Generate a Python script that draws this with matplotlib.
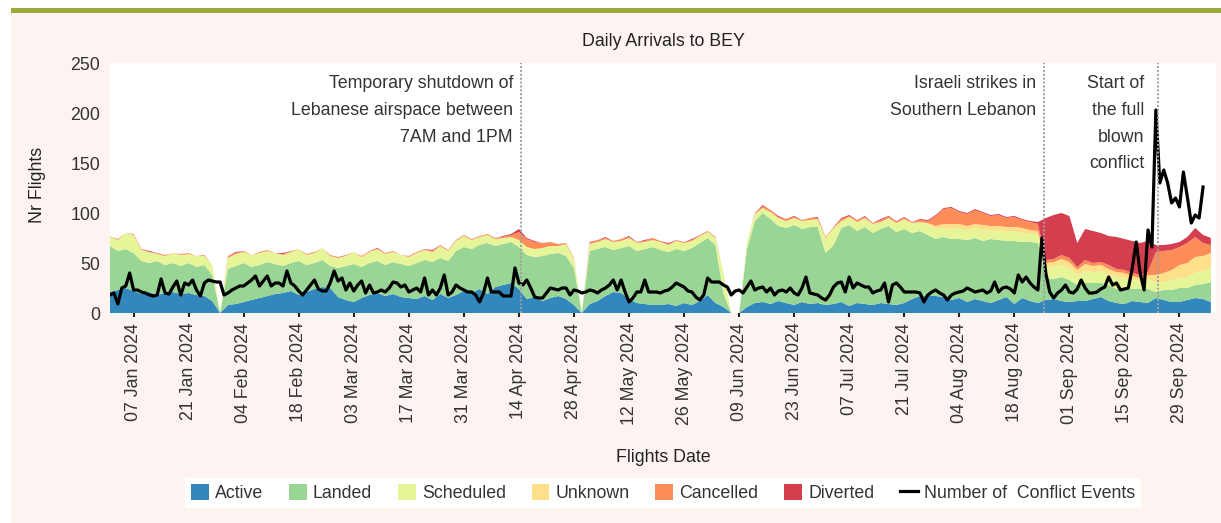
import numpy as np
import pandas as pd
import matplotlib
matplotlib.use('Agg')
import matplotlib.pyplot as plt
import matplotlib.dates as mdates
from matplotlib import font_manager
from matplotlib.patches import Patch, Rectangle
from matplotlib.lines import Line2D

# flights per status, one value every 2 days starting 01 Jan 2024
active = [21, 23, 25, 22, 19, 21, 18, 20, 21, 19, 20, 18, 17, 12, 0,
          8, 9, 11, 13, 15, 17, 19, 20, 22, 18, 21, 24, 26, 25, 16,
          13, 11, 15, 18, 20, 17, 19, 16, 15, 14, 17, 13, 19, 15,
          18, 22, 20, 24, 19, 26, 28, 30,
          24,
          14, 16, 12, 15, 17, 14, 8,
          0,
          9, 12, 17, 21, 20, 14, 10, 9, 8, 8, 9, 7, 10, 8, 12, 18, 10, 6,
          0, 0,
          6, 10, 11, 9, 12, 10, 8, 11, 9,
          10, 8, 9, 11, 7, 10, 9, 8, 10, 9, 8, 10, 14, 17, 18,
          17, 16, 13, 15, 11, 14, 12, 10, 13, 16, 9, 15, 12,
          10,
          13, 14, 12, 11, 12, 12, 14, 16, 12, 10, 9, 12, 11, 10,
          15, 13, 11, 11, 13, 15, 14, 11]
landed = [46, 39, 39, 38, 33, 29, 34, 28, 29, 28, 30, 28, 31, 26, 0,
          36, 38, 39, 33, 33, 34, 30, 27, 28, 34, 27, 26, 27, 22, 29,
          34, 38, 31, 32, 32, 31, 32, 33, 32, 36, 36, 38, 36, 37,
          44, 44, 44, 44, 51, 41, 41, 41,
          42,
          44, 40, 45, 44, 43, 43, 37,
          0,
          53, 52, 49, 42, 45, 53, 52, 55, 58, 55, 52, 57, 52, 57, 58, 57, 58, 14,
          0, 0,
          58, 82, 89, 85, 75, 75, 80, 73, 77,
          76, 52, 59, 74, 81, 72, 77, 72, 74, 78, 73, 74, 66, 65, 60,
          57, 60, 61, 59, 62, 61, 60, 64, 60, 56, 63, 56, 59,
          60,
          22, 20, 24, 22, 16, 18, 16, 14, 16, 14, 15, 12, 13, 14,
          6, 10, 12, 14, 12, 13, 15, 20]
scheduled = [10, 11, 16, 18, 11, 11, 7, 9, 10, 11, 9, 11, 9, 10, 0,
             11, 12, 11, 12, 12, 11, 11, 11, 11, 12, 10, 10, 12, 10, 10,
             10, 12, 10, 11, 12, 11, 10, 9, 9, 10, 10, 10, 12, 10,
             10, 11, 9, 8, 8, 7, 6, 5,
             7,
             8, 8, 8, 8, 7, 12, 9,
             0,
             7, 7, 8, 8, 7, 8, 8, 7, 7, 8, 7, 8, 8, 7, 7, 6, 7, 20,
             0, 0,
             6, 7, 5, 7, 7, 7, 7, 8, 7,
             8, 15, 17, 7, 8, 9, 8, 9, 7, 8, 9, 9, 10, 9, 11,
             10, 9, 10, 11, 9, 10, 11, 9, 10, 9, 10, 9, 8,
             9,
             10, 12, 12, 12, 10, 12, 11, 12, 10, 12, 11, 9, 8, 10,
             9, 8, 10, 10, 11, 12, 13, 14]
unknown = [0, 0, 0, 0, 0, 0, 0, 0, 0, 0, 0, 0, 0, 0, 0,
           0, 0, 0, 0, 0, 0, 0, 0, 0, 0, 0, 0, 0, 0, 0,
           0, 0, 0, 0, 0, 0, 0, 0, 0, 0, 0, 0, 0, 0, 0,
           0, 0, 0, 0, 0, 0, 0, 0, 0, 0, 0, 0, 0, 0, 0,
           0, 0, 0, 0, 0, 0, 0, 0, 0, 0, 0, 0, 0, 0, 0,
           0, 0, 0, 0, 0, 0, 0, 0, 0, 0, 1, 0, 0, 0, 0,
           0, 0, 0, 0, 0, 0, 1, 0, 0, 0, 0, 1, 0, 0, 1,
           3, 4, 5, 4, 5, 4, 5, 4, 4, 5, 4, 5, 4,
           3,
           5, 5, 6, 6, 5, 7, 6, 6, 6, 5, 5, 4, 3, 4,
           8, 9, 10, 13, 14, 16, 15, 15]
cancelled = [0, 1, 0, 1, 1, 0, 1, 1, 0, 1, 1, 0, 1, 0, 0,
             2, 1, 1, 0, 1, 1, 0, 1, 1, 0, 1, 1, 0, 1, 1,
             1, 0, 1, 1, 0, 1, 1, 0, 1, 1, 1, 1, 1, 1,
             1, 1, 1, 1, 1, 1, 1, 2,
             8,
             8, 7, 5, 4, 2, 1, 1,
             0,
             1, 2, 1, 1, 2, 1, 1, 1, 2, 1, 1, 1, 1, 1, 1, 1, 1, 0,
             0, 0,
             0, 1, 2, 2, 1, 2, 1, 1, 2,
             1, 1, 1, 2, 1, 2, 1, 1, 2, 1, 2, 1, 1, 2, 2,
             10, 15, 16, 12, 12, 14, 12, 10, 11, 9, 10, 8, 8,
             7,
             3, 3, 4, 4, 3, 4, 3, 3, 4, 3, 3, 3, 3, 3,
             23, 22, 20, 18, 20, 20, 13, 8]
diverted = [0, 0, 0, 0, 0, 1, 0, 0, 0, 0, 0, 0, 0, 0, 0,
            0, 1, 0, 0, 0, 0, 0, 1, 0, 0, 0, 0, 0, 0, 0,
            0, 0, 0, 0, 1, 0, 0, 0, 0, 0, 0, 1, 0, 0,
            0, 0, 0, 0, 0, 0, 1, 1,
            3,
            1, 1, 0, 0, 0, 0, 0,
            0,
            1, 0, 1, 0, 0, 1, 0, 1, 0, 0, 1, 0, 0, 1, 0, 0, 0, 0,
            0, 0,
            0, 0, 1, 0, 1, 0, 1, 0, 0,
            1, 0, 0, 1, 1, 0, 1, 0, 1, 1, 0, 1, 0, 1, 1,
            1, 1, 1, 1, 1, 1, 1, 1, 1, 1, 1, 1, 1,
            2,
            42, 44, 42, 42, 24, 31, 32, 29, 29, 32, 31, 32, 32, 31,
            7, 6, 6, 5, 6, 9, 8, 7]

# daily number of conflict events from 01 Jan 2024
conflict = [18, 20, 9, 25, 27, 40, 23, 23, 21, 20,
            18, 17, 18, 34, 20, 19, 26, 32, 18, 30,
            28, 33, 23, 17, 30, 33, 32, 31, 31, 18,
            20, 23, 25, 27, 27, 30, 33, 37, 27, 32,
            37, 27, 30, 30, 27, 42, 30, 27, 22, 18,
            23, 28, 33, 24, 22, 22, 30, 42, 32, 35,
            23, 30, 22, 28, 32, 20, 28, 20, 21, 23,
            21, 25, 31, 30, 26, 28, 21, 23, 25, 21,
            35, 18, 23, 18, 25, 38, 18, 21, 28, 25,
            23, 21, 21, 18, 11, 20, 35, 21, 21, 21,
            17, 17, 17, 45, 30, 28, 33, 25, 16, 15,
            15, 20, 25, 24, 23, 25, 25, 18, 23, 22,
            20, 21, 23, 22, 20, 23, 25, 28, 33, 23,
            33, 21, 11, 15, 21, 21, 33, 21, 21, 21,
            20, 22, 23, 26, 30, 28, 26, 22, 21, 16,
            13, 18, 35, 31, 31, 31, 28, 26, 18, 22,
            23, 20, 26, 32, 23, 25, 26, 21, 25, 18,
            22, 23, 21, 25, 20, 18, 25, 36, 20, 19,
            18, 15, 13, 18, 26, 30, 31, 21, 36, 25,
            30, 28, 26, 26, 20, 22, 23, 30, 11, 28,
            30, 26, 21, 21, 21, 21, 20, 11, 18, 21,
            23, 20, 18, 13, 18, 20, 21, 22, 25, 23,
            21, 22, 23, 20, 22, 31, 21, 25, 26, 24,
            20, 38, 31, 36, 30, 26, 23, 75, 40, 21,
            15, 20, 23, 28, 21, 20, 24, 33, 25, 20,
            20, 21, 24, 26, 36, 28, 30, 23, 24, 25,
            45, 71, 40, 23, 83, 66, 203, 130, 143, 130,
            110, 115, 106, 141, 116, 90, 98, 95, 126]

series_names = ['Active', 'Landed', 'Scheduled', 'Unknown', 'Cancelled', 'Diverted']
colors = ['#3288bd', '#99d594', '#e6f598', '#fee08b', '#fc8d59', '#d53e4f']
events = ['2024-04-14', '2024-08-25', '2024-09-23']
event_notes = ['Temporary shutdown of\nLebanese airspace between\n7AM and 1PM',
               'Israeli strikes in\nSouthern Lebanon',
               'Start of\nthe full\nblown\nconflict']

stack = [active, landed, scheduled, unknown, cancelled, diverted]
for s in stack:
    assert len(s) == len(active), len(s)

area_dates = pd.date_range('2024-01-01', periods=len(active), freq='2D')
conf_dates = pd.date_range('2024-01-01', periods=len(conflict), freq='D')
tick_dates = pd.date_range('2024-01-07', '2024-09-29', freq='14D')

names = {f.name for f in font_manager.fontManager.ttflist}
if 'Liberation Sans Narrow' in names:
    font, fs = 'Liberation Sans Narrow', 15
else:
    font, fs = 'Liberation Sans', 12.8
plt.rcParams['font.family'] = [font, 'DejaVu Sans']
txt = '#333333'

W, H = 1221, 523
fig = plt.figure(figsize=(W / 100, H / 100), dpi=100, facecolor='white')
fig.patches.append(Rectangle((11 / W, 0), 1, 1 - 12.5 / H, transform=fig.transFigure,
                             facecolor='#fdf4f2', edgecolor='none', zorder=-10))
fig.patches.append(Rectangle((11 / W, 1 - 12.5 / H), 1, 4.5 / H, transform=fig.transFigure,
                             facecolor='#9cac3c', edgecolor='none', zorder=-10))

ax = fig.add_axes([110 / W, 1 - 313 / H, (1216 - 110) / W, (313 - 63) / H])
ax.set_facecolor('white')
ax.stackplot(area_dates, *stack, colors=colors, linewidth=0)
ax.plot(conf_dates, conflict, color='black', lw=2.3, zorder=4)

# text offset (days) to the left of each event line
note_gap = [2.0, 2.0, 3.4]
for day, note, gap in zip(events, event_notes, note_gap):
    d = pd.Timestamp(day) + pd.Timedelta(hours=12)
    ax.axvline(d, color='#a0a0a0', ls=(0, (1, 1)), lw=1.4, zorder=5)
    ax.text(d - pd.Timedelta(days=gap), 238, note, ha='right', va='top',
            fontsize=fs, color=txt, linespacing=1.75)

ax.set_ylim(0, 250)
ax.set_yticks([0, 50, 100, 150, 200, 250])
ax.set_xlim(pd.Timestamp('2024-01-01'), pd.Timestamp('2024-10-08 07:00'))
ax.set_xticks(tick_dates)
ax.xaxis.set_major_formatter(mdates.DateFormatter('%d %b %Y'))
plt.setp(ax.get_xticklabels(), rotation=90)
for s in ax.spines.values():
    s.set_visible(False)
ax.tick_params(axis='y', length=0, pad=7, labelsize=fs, labelcolor=txt)
ax.tick_params(axis='x', length=3, width=1.5, pad=4, labelsize=fs, labelcolor=txt, color='#222222')

fig.text(663 / W, 1 - 42 / H, 'Daily Arrivals to BEY', ha='center', va='center', fontsize=fs, color='#222222')
fig.text(38 / W, 1 - 185 / H, 'Nr Flights', ha='center', va='center', rotation=90, fontsize=fs, color='#222222')
fig.text(663 / W, 1 - 457 / H, 'Flights Date', ha='center', va='center', fontsize=fs, color='#222222')

handles = [Patch(facecolor=c, edgecolor='none') for c in colors]
handles.append(Line2D([], [], color='black', lw=2.3))
labels = series_names + ['Number of  Conflict Events']
leg = fig.legend(handles, labels, loc='center', bbox_to_anchor=(663 / W, 1 - 493 / H), ncol=7,
                 frameon=True, facecolor='white', edgecolor='none', framealpha=1, fancybox=False,
                 handlelength=1.0, handleheight=1.0, handletextpad=0.35, columnspacing=1.45,
                 borderpad=0.35, fontsize=fs)
for t in leg.get_texts():
    t.set_color(txt)

fig.savefig('out.png', dpi=100, facecolor=fig.get_facecolor())
